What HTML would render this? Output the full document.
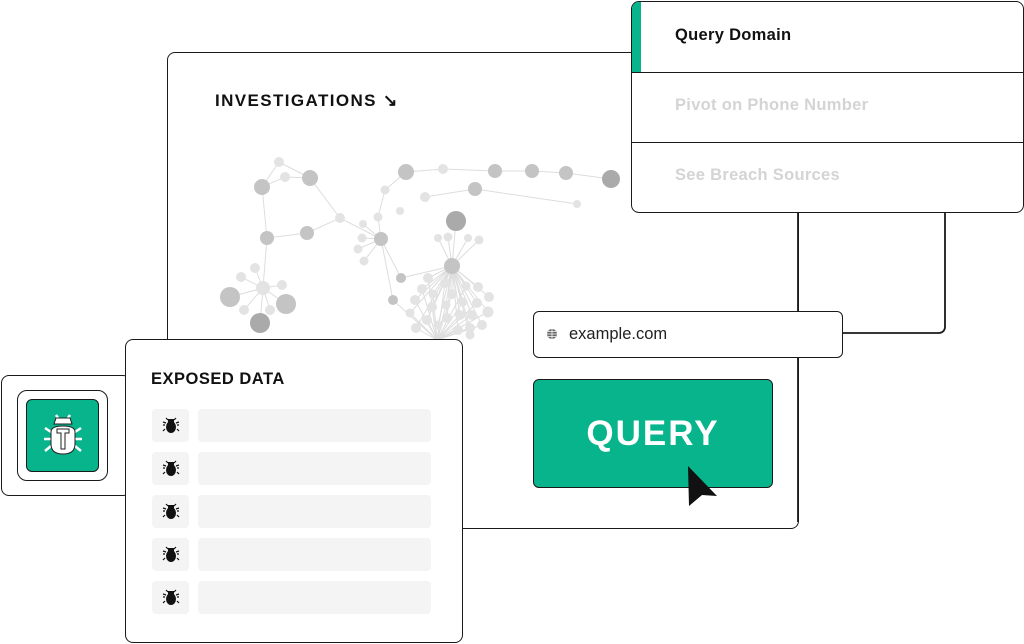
<!DOCTYPE html>
<html><head><meta charset="utf-8"><style>
*{margin:0;padding:0;box-sizing:border-box}
body{width:1024px;height:644px;background:#fff;position:relative;overflow:hidden;font-family:"Liberation Sans",sans-serif}
.b{position:absolute;border:1.8px solid #1a1a1a;background:#fff;border-radius:8px}
.t{position:absolute;font-weight:bold;white-space:nowrap}
.r{position:absolute;background:#f4f4f4;border-radius:4px;height:33px}
</style></head><body>

<div class="b" style="left:167px;top:52px;width:632px;height:477px"></div>
<div class="t" style="left:215px;top:91px;font-size:17px;letter-spacing:1.4px;color:#111">INVESTIGATIONS ↘</div>

<svg style="position:absolute;left:0;top:0" width="1024" height="644">
<g stroke="#ddd" stroke-width="1" fill="none">
<polyline points="279,162 262,187 285,177 310,178 279,162"/>
<polyline points="262,187 267,238 307,233 340,218 381,239"/>
<line x1="310" y1="178" x2="340" y2="218"/>
<line x1="267" y1="238" x2="263" y2="288"/>
<polyline points="381,239 378,217 385,190 406,172 443,169 495,171 532,171 566,173 611,179"/>
<polyline points="425,197 475,189 577,204"/>
<line x1="381" y1="239" x2="363" y2="224"/><line x1="381" y1="239" x2="362" y2="238"/><line x1="381" y1="239" x2="358" y2="249"/><line x1="381" y1="239" x2="364" y2="261"/>
<line x1="381" y1="239" x2="401" y2="278"/><line x1="381" y1="239" x2="393" y2="300"/>
<line x1="401" y1="278" x2="452" y2="266"/><line x1="393" y1="300" x2="437" y2="340"/>
<line x1="452" y1="266" x2="456" y2="221"/><line x1="452" y1="266" x2="438" y2="238"/><line x1="452" y1="266" x2="448" y2="237"/><line x1="452" y1="266" x2="468" y2="238"/><line x1="452" y1="266" x2="479" y2="240"/>
<line x1="263" y1="288" x2="255" y2="268"/><line x1="263" y1="288" x2="241" y2="277"/><line x1="263" y1="288" x2="230" y2="297"/><line x1="263" y1="288" x2="282" y2="285"/><line x1="263" y1="288" x2="286" y2="304"/><line x1="263" y1="288" x2="244" y2="310"/><line x1="263" y1="288" x2="270" y2="310"/><line x1="263" y1="288" x2="260" y2="323"/>
<path d="M452 266L428 278M452 266L422 289M452 266L445 283M452 266L466 286M452 266L478 287M452 266L415 300M452 266L433 294M452 266L452 294M452 266L463 302M452 266L477 303M452 266L489 297M452 266L410 313M452 266L432 307M452 266L446 305M452 266L460 315M452 266L472 315M452 266L488 312M452 266L416 328M452 266L427 320M452 266L438 325M452 266L447 318M452 266L458 330M452 266L470 328M452 266L482 325M452 266L470 335"/>
<path d="M437 340L428 278M437 340L422 289M437 340L445 283M437 340L466 286M437 340L415 300M437 340L433 294M437 340L452 294M437 340L463 302M437 340L477 303M437 340L410 313M437 340L432 307M437 340L446 305M437 340L460 315M437 340L472 315M437 340L488 312M437 340L416 328M437 340L427 320M437 340L458 330M437 340L470 328M437 340L482 325"/>
</g>
<g fill="#e3e3e3">
<circle cx="279" cy="162" r="5"/><circle cx="285" cy="177" r="5"/><circle cx="340" cy="218" r="5"/>
<circle cx="363" cy="224" r="4"/><circle cx="362" cy="238" r="4.5"/><circle cx="358" cy="249" r="4.5"/><circle cx="364" cy="261" r="4.5"/>
<circle cx="378" cy="217" r="4.5"/><circle cx="385" cy="190" r="4.5"/><circle cx="443" cy="169" r="5"/><circle cx="425" cy="197" r="5"/>
<circle cx="577" cy="204" r="4"/><circle cx="400" cy="211" r="4"/>
<circle cx="438" cy="238" r="4"/><circle cx="448" cy="237" r="4.5"/><circle cx="468" cy="238" r="4"/><circle cx="479" cy="240" r="4.5"/>
<circle cx="255" cy="268" r="5"/><circle cx="241" cy="277" r="5"/><circle cx="263" cy="288" r="7"/><circle cx="282" cy="285" r="5"/><circle cx="244" cy="310" r="5"/><circle cx="270" cy="310" r="5"/>
<circle cx="428" cy="278" r="5"/><circle cx="422" cy="289" r="5"/><circle cx="445" cy="283" r="5"/><circle cx="466" cy="286" r="4.5"/><circle cx="478" cy="287" r="5"/><circle cx="415" cy="300" r="5"/><circle cx="433" cy="294" r="4.5"/><circle cx="452" cy="294" r="5"/><circle cx="463" cy="302" r="4.5"/><circle cx="477" cy="303" r="5"/><circle cx="489" cy="297" r="5"/><circle cx="410" cy="313" r="4.5"/><circle cx="432" cy="307" r="5"/><circle cx="446" cy="305" r="4.5"/><circle cx="460" cy="315" r="5"/><circle cx="472" cy="315" r="5"/><circle cx="488" cy="312" r="5.5"/><circle cx="416" cy="328" r="5"/><circle cx="427" cy="320" r="5"/><circle cx="438" cy="325" r="4.5"/><circle cx="447" cy="318" r="5"/><circle cx="458" cy="330" r="5"/><circle cx="470" cy="328" r="5"/><circle cx="482" cy="325" r="5"/><circle cx="470" cy="335" r="4.5"/>
</g>
<g fill="#c4c4c4">
<circle cx="262" cy="187" r="8"/><circle cx="310" cy="178" r="8"/><circle cx="267" cy="238" r="7"/><circle cx="307" cy="233" r="7"/><circle cx="381" cy="239" r="7"/>
<circle cx="406" cy="172" r="8"/><circle cx="495" cy="171" r="7"/><circle cx="532" cy="171" r="7"/><circle cx="566" cy="173" r="7"/><circle cx="475" cy="189" r="7"/>
<circle cx="452" cy="266" r="8"/><circle cx="401" cy="278" r="5"/><circle cx="393" cy="300" r="5"/>
<circle cx="230" cy="297" r="10"/><circle cx="286" cy="304" r="10"/>
</g>
<g fill="#aaa"><circle cx="611" cy="179" r="9"/><circle cx="456" cy="221" r="10"/><circle cx="260" cy="323" r="10"/></g>
<path d="M798 212V522" stroke="#1a1a1a" stroke-width="1.8"/>
<path d="M945 212V327a6 6 0 0 1-6 6H842" stroke="#1a1a1a" stroke-width="1.8" fill="none"/>
</svg>

<div class="b" style="left:631px;top:1px;width:393px;height:212px;overflow:hidden">
  <div style="position:absolute;left:0;top:0;width:9px;height:70px;background:#08b48c"></div>
  <div style="position:absolute;left:0;top:70px;width:100%;border-top:1.8px solid #1a1a1a"></div>
  <div style="position:absolute;left:0;top:140px;width:100%;border-top:1.8px solid #1a1a1a"></div>
  <div class="t" style="left:43px;top:24px;font-size:16.5px;letter-spacing:0.3px;color:#111">Query Domain</div>
  <div class="t" style="left:43px;top:94px;font-size:16.5px;letter-spacing:0.3px;color:#d4d4d4">Pivot on Phone Number</div>
  <div class="t" style="left:43px;top:164px;font-size:16.5px;letter-spacing:0.3px;color:#d4d4d4">See Breach Sources</div>
</div>

<div class="b" style="left:533px;top:311px;width:310px;height:47px;border-radius:6px">
  <svg style="position:absolute;left:12px;top:16px" width="12" height="12"><circle cx="6" cy="6" r="5" fill="#666"/><path d="M1 6H11M6 1V11M2 3.5H10M2 8.5H10" stroke="#fff" stroke-width="0.8"/></svg>
  <div style="position:absolute;left:35px;top:13px;font-size:16.5px;color:#222">example.com</div>
</div>

<div class="b" style="left:533px;top:379px;width:240px;height:109px;background:#08b48c;border-radius:6px">
  <div class="t" style="left:0;width:100%;text-align:center;top:34px;font-size:35px;color:#fff;letter-spacing:2px">QUERY</div>
</div>
<svg style="position:absolute;left:0;top:0" width="1024" height="644"><polygon points="688,466 717,496 702,495 689,506" fill="#111"/></svg>

<div class="b" style="left:1px;top:375px;width:130px;height:121px"></div>
<div class="b" style="left:17px;top:390px;width:91px;height:91px;border-radius:10px"></div>
<div class="b" style="left:26px;top:399px;width:73px;height:73px;background:#08b48c;border-radius:6px">
<svg style="position:absolute;left:14px;top:10px" width="44" height="50" viewBox="0 0 44 50"><g stroke="#fff" stroke-width="2.5" fill="none"><path d="M10 22l-6-4M34 22l6-4M10 29H3M34 29h7M10 36l-6 5M34 36l6 5M17 8l-2-3M27 8l2-3"/></g><g stroke="#222" stroke-width="1" fill="#fff"><path d="M15 8h14l2 6H13z"/><path d="M10 22q0-6 12-6q12 0 12 6v12q0 10-12 10q-12 0-12-10z"/><path d="M16 19h12v4h-4v16h-4V23h-4z"/></g></svg>
</div>

<div class="b" style="left:125px;top:339px;width:338px;height:304px">
  <div class="t" style="left:25px;top:30px;font-size:16.5px;color:#111;letter-spacing:0.5px">EXPOSED DATA</div>
</div>
<div class="r" style="left:152px;top:409px;width:37px"></div><div class="r" style="left:198px;top:409px;width:233px"></div>
<div class="r" style="left:152px;top:452px;width:37px"></div><div class="r" style="left:198px;top:452px;width:233px"></div>
<div class="r" style="left:152px;top:495px;width:37px"></div><div class="r" style="left:198px;top:495px;width:233px"></div>
<div class="r" style="left:152px;top:538px;width:37px"></div><div class="r" style="left:198px;top:538px;width:233px"></div>
<div class="r" style="left:152px;top:581px;width:37px"></div><div class="r" style="left:198px;top:581px;width:233px"></div>
<svg style="position:absolute;left:0;top:0" width="1024" height="644">
<defs><g id="bug"><path d="M-3-6l-2-2M3-6l2-2M-6-1h-2M6-1h2M-6 3l-2 2M6 3l2 2M-5-3l-3-1M5-3l3-1" stroke="#111" stroke-width="1.2"/><ellipse cx="0" cy="1" rx="5" ry="6" fill="#111"/><rect x="-3" y="-7" width="6" height="3" fill="#111"/></g></defs>
<use href="#bug" x="171" y="426"/><use href="#bug" x="171" y="469"/><use href="#bug" x="171" y="512"/><use href="#bug" x="171" y="555"/><use href="#bug" x="171" y="598"/>
</svg>
</body></html>
